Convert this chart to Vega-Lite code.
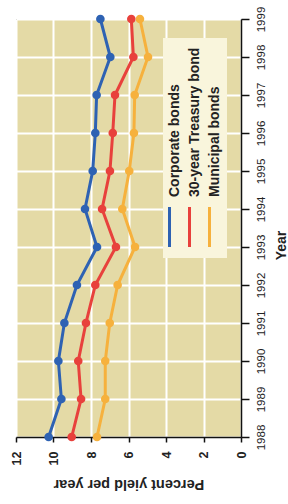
{
  "$schema": "https://vega.github.io/schema/vega-lite/v6.json",
  "width": 225,
  "height": 418,
  "autosize": {"type": "none"},
  "padding": {"left": 16, "top": 19, "right": 47, "bottom": 67},
  "background": "#ffffff",
  "config": {
    "view": {"fill": "#e4daa6", "stroke": "#6b6650", "strokeWidth": 1},
    "font": "Liberation Sans",
    "axis": {"gridColor": "#ffffff", "gridWidth": 2, "gridOpacity": 1, "domainColor": "#111111", "tickColor": "#111111", "labelColor": "#222222", "titleColor": "#222222"}
  },
  "data": {
    "values": [
      {"year": 1988, "series": "Corporate bonds", "yield": 10.26},
      {"year": 1989, "series": "Corporate bonds", "yield": 9.58},
      {"year": 1990, "series": "Corporate bonds", "yield": 9.74},
      {"year": 1991, "series": "Corporate bonds", "yield": 9.42},
      {"year": 1992, "series": "Corporate bonds", "yield": 8.75},
      {"year": 1993, "series": "Corporate bonds", "yield": 7.68},
      {"year": 1994, "series": "Corporate bonds", "yield": 8.32},
      {"year": 1995, "series": "Corporate bonds", "yield": 7.91},
      {"year": 1996, "series": "Corporate bonds", "yield": 7.77},
      {"year": 1997, "series": "Corporate bonds", "yield": 7.70},
      {"year": 1998, "series": "Corporate bonds", "yield": 6.97},
      {"year": 1999, "series": "Corporate bonds", "yield": 7.50},
      {"year": 1988, "series": "30-year Treasury bond", "yield": 9.03},
      {"year": 1989, "series": "30-year Treasury bond", "yield": 8.53},
      {"year": 1990, "series": "30-year Treasury bond", "yield": 8.68},
      {"year": 1991, "series": "30-year Treasury bond", "yield": 8.27},
      {"year": 1992, "series": "30-year Treasury bond", "yield": 7.77},
      {"year": 1993, "series": "30-year Treasury bond", "yield": 6.67},
      {"year": 1994, "series": "30-year Treasury bond", "yield": 7.41},
      {"year": 1995, "series": "30-year Treasury bond", "yield": 6.99},
      {"year": 1996, "series": "30-year Treasury bond", "yield": 6.84},
      {"year": 1997, "series": "30-year Treasury bond", "yield": 6.72},
      {"year": 1998, "series": "30-year Treasury bond", "yield": 5.74},
      {"year": 1999, "series": "30-year Treasury bond", "yield": 5.85},
      {"year": 1988, "series": "Municipal bonds", "yield": 7.68},
      {"year": 1989, "series": "Municipal bonds", "yield": 7.24},
      {"year": 1990, "series": "Municipal bonds", "yield": 7.24},
      {"year": 1991, "series": "Municipal bonds", "yield": 7.00},
      {"year": 1992, "series": "Municipal bonds", "yield": 6.58},
      {"year": 1993, "series": "Municipal bonds", "yield": 5.65},
      {"year": 1994, "series": "Municipal bonds", "yield": 6.33},
      {"year": 1995, "series": "Municipal bonds", "yield": 5.96},
      {"year": 1996, "series": "Municipal bonds", "yield": 5.71},
      {"year": 1997, "series": "Municipal bonds", "yield": 5.67},
      {"year": 1998, "series": "Municipal bonds", "yield": 4.96},
      {"year": 1999, "series": "Municipal bonds", "yield": 5.39}
    ]
  },
  "encoding": {
    "x": {
      "field": "yield", "type": "quantitative",
      "scale": {"domain": [0, 12], "reverse": true, "nice": false},
      "axis": {
        "values": [0, 2, 4, 6, 8, 10, 12],
        "title": "Percent yield per year",
        "titleAngle": 180, "titleBaseline": "bottom", "titleFontSize": 14.5, "titleFontWeight": "bold", "titlePadding": 12,
        "labelAngle": 270, "labelFontWeight": "bold", "labelFontSize": 12.5, "labelPadding": 9,
        "tickSize": 5, "tickWidth": 1.5, "domainWidth": 1.5
      }
    },
    "y": {
      "field": "year", "type": "quantitative",
      "scale": {"domain": [1988, 1999], "nice": false, "zero": false},
      "axis": {
        "orient": "right",
        "values": [1988, 1989, 1990, 1991, 1992, 1993, 1994, 1995, 1996, 1997, 1998, 1999],
        "format": "d",
        "labelAngle": 270, "labelAlign": "center", "labelBaseline": "top", "labelFontSize": 11.5, "labelPadding": 6,
        "tickSize": 8, "tickWidth": 1.5, "domainWidth": 1.5,
        "title": "Year", "titleAngle": 270, "titleBaseline": "top", "titleFontSize": 14, "titleFontWeight": "bold", "titlePadding": 8, "titleY": 226
      }
    },
    "color": {
      "field": "series", "type": "nominal",
      "scale": {"domain": ["Corporate bonds", "30-year Treasury bond", "Municipal bonds"], "range": ["#2e62b3", "#e8413c", "#f6b13d"]},
      "legend": {
        "orient": "none", "legendX": 147, "legendY": 19, "direction": "horizontal", "title": null,
        "fillColor": "#f9f5dc", "padding": 5,
        "symbolType": "M0,-1L0,1", "symbolSize": 1600, "symbolStrokeWidth": 3,
        "labelFontSize": 14, "labelFontWeight": "bold", "labelColor": "#222222", "labelLimit": 300,
        "columnPadding": 1,
        "encode": {
          "symbols": {"update": {"stroke": {"scale": "color", "field": "value"}, "strokeWidth": {"value": 3}, "x": {"value": 1.5}, "y": {"value": 184}}},
          "labels": {"update": {"angle": {"value": 270}, "align": {"value": "left"}, "baseline": {"value": "middle"}, "x": {"value": 7}, "y": {"value": 154}}}
        }
      }
    }
  },
  "layer": [
    {"mark": {"type": "line", "strokeWidth": 3}, "encoding": {"order": {"field": "year", "type": "quantitative"}}},
    {"mark": {"type": "point", "filled": true, "size": 75, "opacity": 1}}
  ]
}
